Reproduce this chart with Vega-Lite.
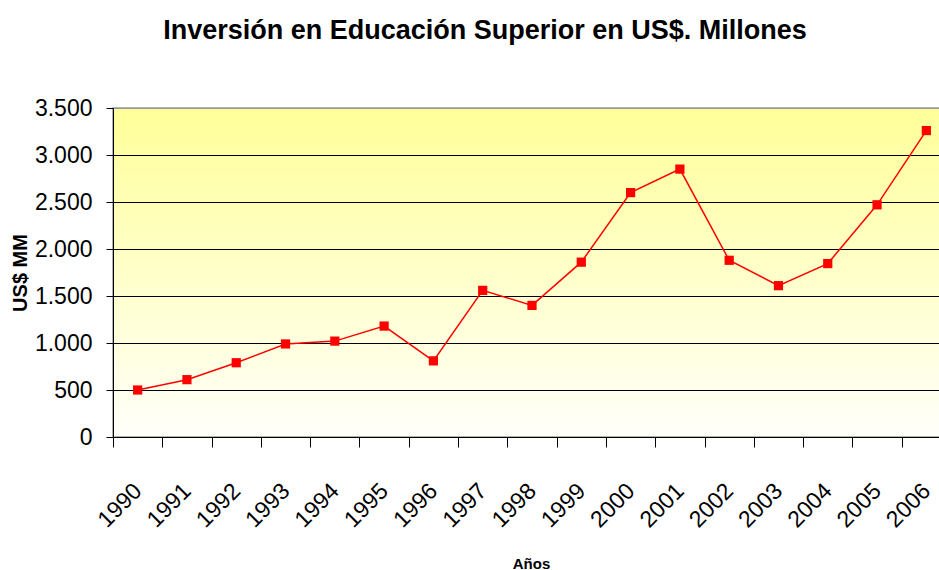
{
  "$schema": "https://vega.github.io/schema/vega-lite/v6.json",
  "width": 838,
  "height": 329,
  "autosize": {"type": "none"},
  "padding": {"left": 113, "top": 108, "right": 0, "bottom": 133},
  "background": "white",
  "config": {
    "locale": {"number": {"decimal": ",", "thousands": ".", "grouping": [3], "currency": ["$", ""]}},
    "font": "Liberation Sans"
  },
  "view": {
    "fill": {"gradient": "linear", "x1": 0, "y1": 0, "x2": 0, "y2": 1,
      "stops": [{"offset": 0, "color": "#FFFF99"}, {"offset": 1, "color": "#FFFFFA"}]},
    "stroke": "#999999",
    "strokeWidth": 1.5
  },
  "title": {
    "text": "Inversión en Educación Superior en US$. Millones",
    "font": "Liberation Sans",
    "fontSize": 27,
    "fontWeight": "bold",
    "color": "#000000",
    "anchor": "middle",
    "frame": "group",
    "dx": -47,
    "offset": 52
  },
  "data": {
    "values": [
      {"anio": "1990", "valor": 500},
      {"anio": "1991", "valor": 610},
      {"anio": "1992", "valor": 790},
      {"anio": "1993", "valor": 990},
      {"anio": "1994", "valor": 1020},
      {"anio": "1995", "valor": 1180},
      {"anio": "1996", "valor": 810},
      {"anio": "1997", "valor": 1560},
      {"anio": "1998", "valor": 1400},
      {"anio": "1999", "valor": 1860},
      {"anio": "2000", "valor": 2600},
      {"anio": "2001", "valor": 2850},
      {"anio": "2002", "valor": 1880},
      {"anio": "2003", "valor": 1610},
      {"anio": "2004", "valor": 1845},
      {"anio": "2005", "valor": 2470},
      {"anio": "2006", "valor": 3260}
    ]
  },
  "encoding": {
    "x": {
      "field": "anio", "type": "ordinal", "sort": null,
      "scale": {"type": "band", "paddingInner": 0, "paddingOuter": 0},
      "axis": {
        "title": "Años",
        "titleFont": "Liberation Sans",
        "titleFontSize": 15,
        "titleFontWeight": "bold",
        "titleColor": "#000000",
        "titleX": 418,
        "titleY": 131,
        "titleBaseline": "alphabetic",
        "titleAlign": "center",
        "labelAngle": -45,
        "labelAlign": "right",
        "labelBaseline": "middle",
        "labelFont": "Liberation Sans",
        "labelFontSize": 23,
        "labelColor": "#000000",
        "labelPadding": 40,
        "labelOverlap": false,
        "labelFlush": false,
        "labelBound": false,
        "tickBand": "extent",
        "tickSize": 10,
        "tickColor": "#000000",
        "domainColor": "#000000",
        "grid": false
      }
    },
    "y": {
      "field": "valor", "type": "quantitative",
      "scale": {"domain": [0, 3500], "nice": false, "zero": true},
      "axis": {
        "title": "US$ MM",
        "titleFont": "Liberation Sans",
        "titleFontSize": 20,
        "titleFontWeight": "bold",
        "titleColor": "#000000",
        "titleX": -93,
        "titleY": 164.5,
        "titleAngle": -90,
        "titleAlign": "center",
        "titleBaseline": "middle",
        "values": [0, 500, 1000, 1500, 2000, 2500, 3000, 3500],
        "format": ",d",
        "labelFont": "Liberation Sans",
        "labelFontSize": 23,
        "labelColor": "#000000",
        "labelPadding": 14,
        "labelFlush": false,
        "labelOverlap": false,
        "tickSize": 7,
        "tickColor": "#000000",
        "domainColor": "#000000",
        "grid": true,
        "gridColor": {"condition": {"test": "datum.value == 3500", "value": "#999999"}, "value": "#000000"},
        "gridWidth": 1,
        "gridOpacity": 1
      }
    }
  },
  "layer": [
    {"mark": {"type": "line", "color": "#FF0000", "strokeWidth": 1.5}},
    {"mark": {"type": "point", "shape": "square", "filled": true, "size": 85, "color": "#FF0000", "opacity": 1}}
  ]
}
